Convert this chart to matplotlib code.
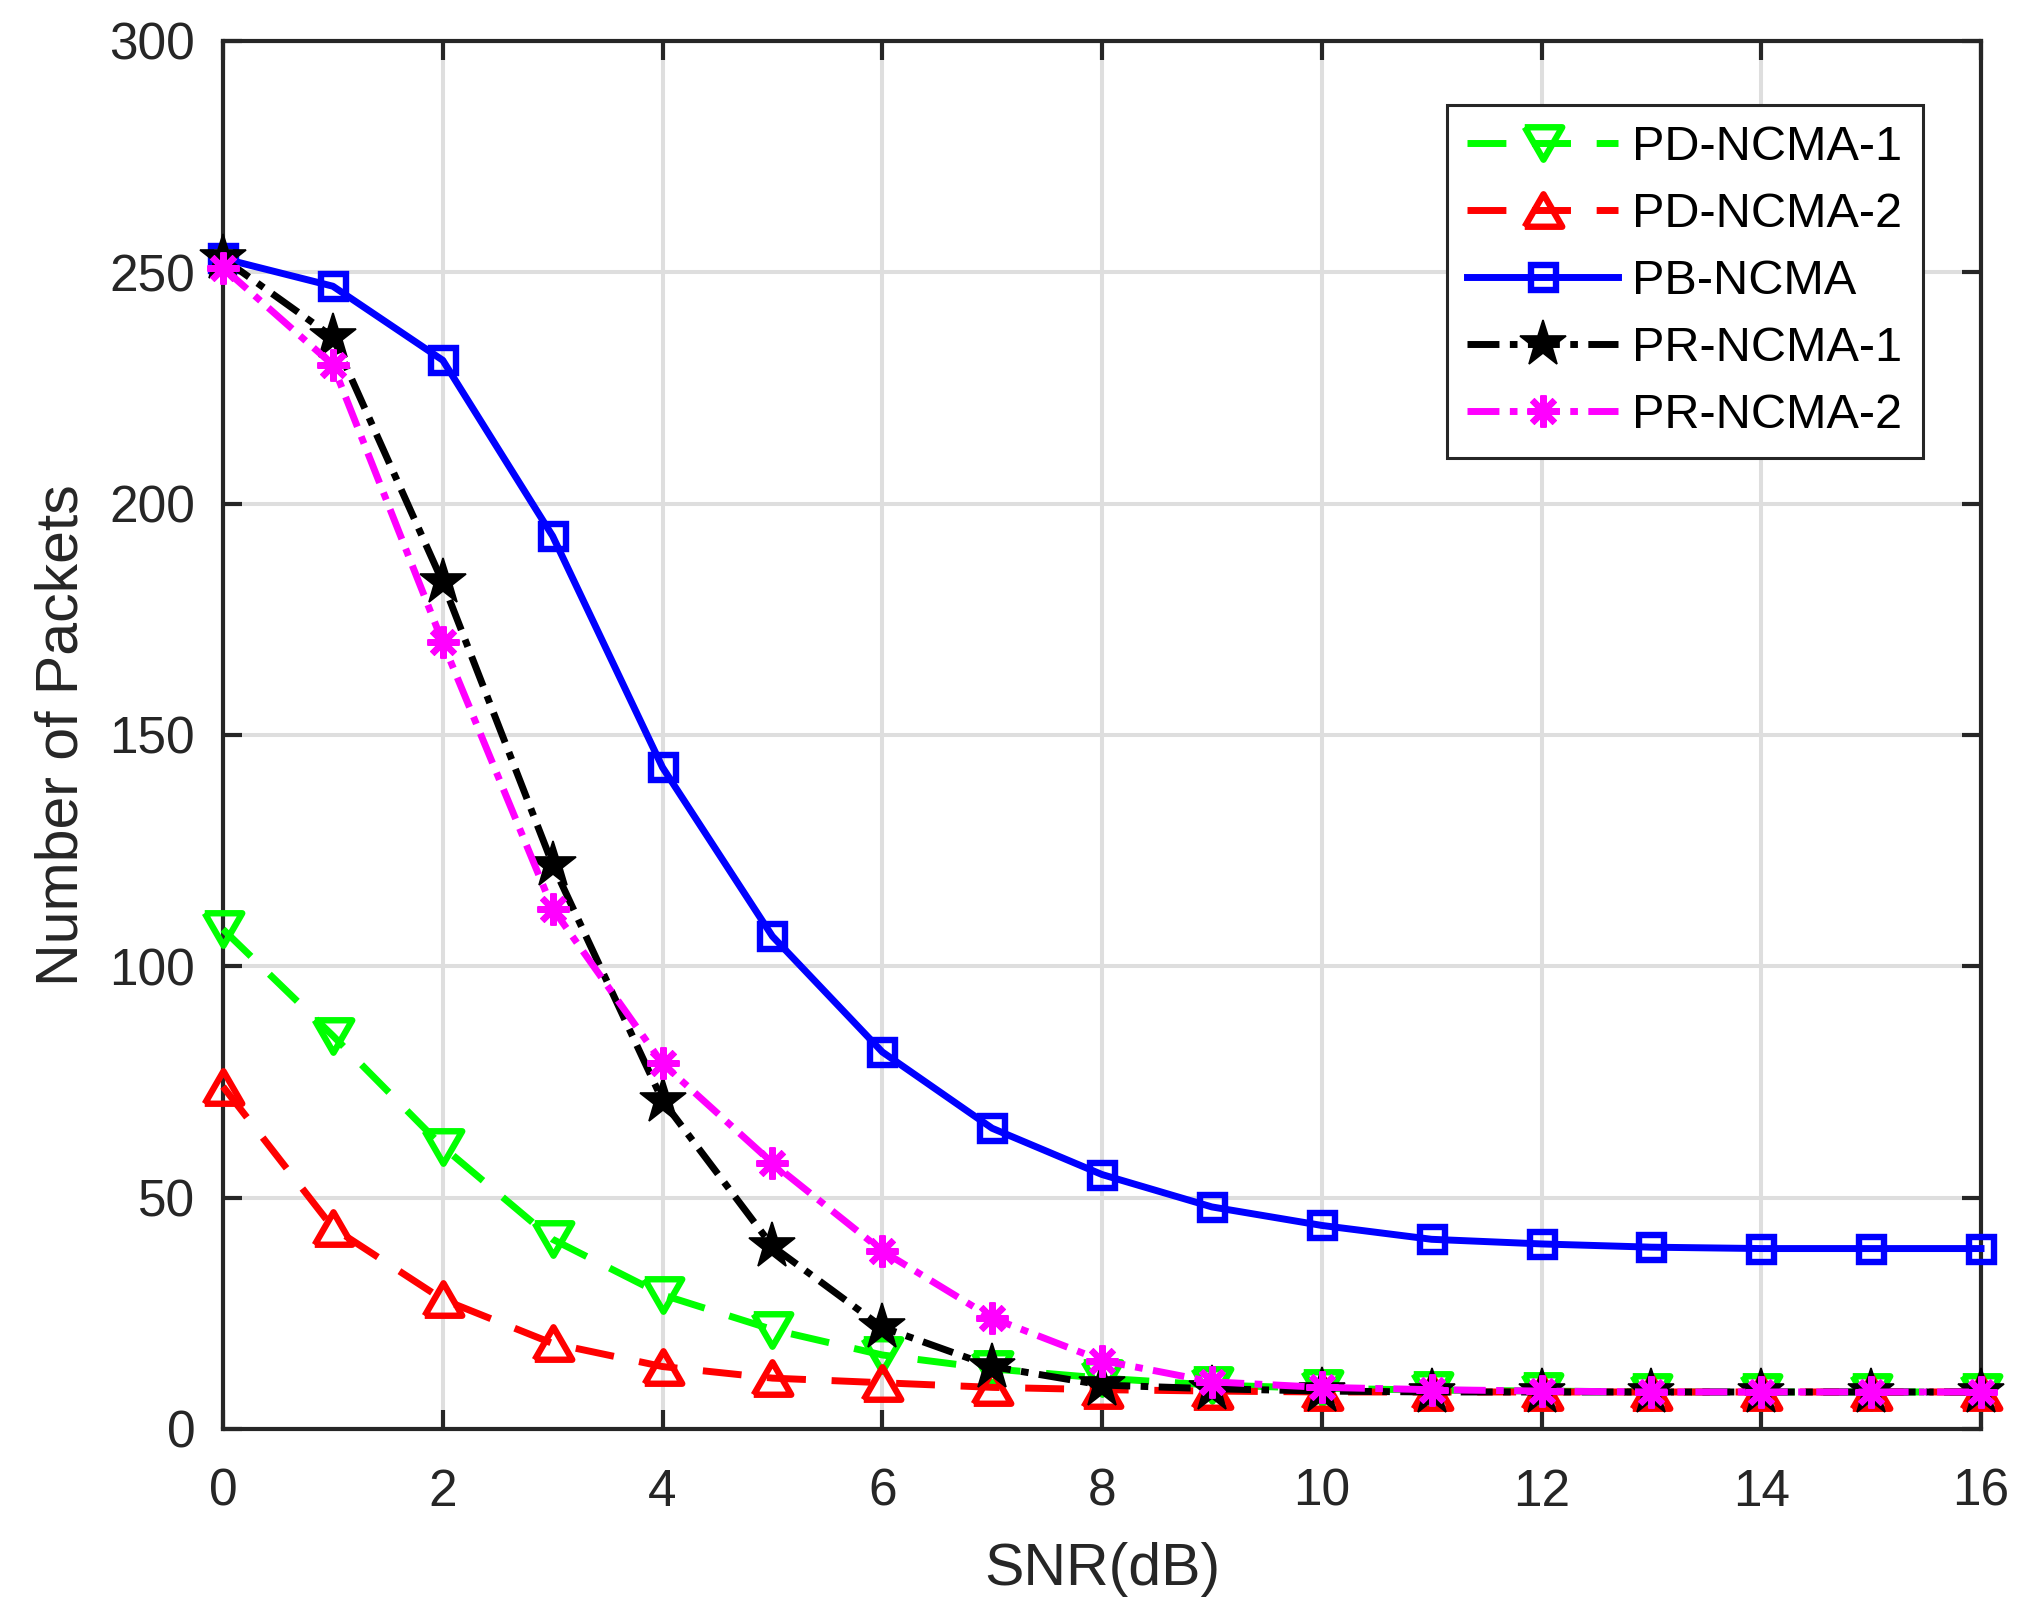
import matplotlib
matplotlib.use("Agg")
import matplotlib.pyplot as plt
import numpy as np

plt.rcParams['font.family'] = ['Liberation Sans', 'DejaVu Sans']

snr = list(range(17))
pd_ncma_1 = [108, 85, 61, 41, 29, 21.5, 16, 13, 11, 9.5, 8.8, 8.4, 8.2, 8, 8, 8, 8]
pd_ncma_2 = [74, 43.5, 28, 18.5, 13.5, 11, 10, 9, 8.5, 8.2, 8, 8, 8, 8, 8, 8, 8]
pb_ncma = [253, 247, 231, 193, 143, 106.5, 81.5, 65, 55, 48, 44, 41, 40, 39.3, 39, 39, 39]
pr_ncma_1 = [253, 236, 183, 122, 71, 39.5, 22, 13.5, 9.5, 8.7, 8.2, 8, 8, 8, 8, 8, 8]
pr_ncma_2 = [251, 230, 170, 112.5, 79, 57.5, 38.5, 24, 14.8, 10.2, 9, 8.5, 8.2, 8, 8, 8, 8]

xticks = [0, 2, 4, 6, 8, 10, 12, 14, 16]
yticks = [0, 50, 100, 150, 200, 250, 300]

DARK = '#262626'
LW = 5.0
MEW = 4.6

# MATLAB-like triangles (wider than tall)
tri_down = [(-1, 0.866), (1, 0.866), (0, -0.866), (-1, 0.866)]
tri_up = [(-1, -0.866), (1, -0.866), (0, 0.866), (-1, -0.866)]

fig = plt.figure(figsize=(20.3, 16.18), dpi=100)
ax = fig.add_axes([223 / 2030, 1 - 1429 / 1618, (1981 - 223) / 2030, (1429 - 41) / 1618])

common = dict(lw=LW, clip_on=False, zorder=3)
ax.plot(snr, pd_ncma_1, color=(0, 1, 0), dashes=(5.6, 3.7), marker=tri_down,
        ms=27, mfc='none', mew=MEW, label='PD-NCMA-1', **common)
ax.plot(snr, pd_ncma_2, color=(1, 0, 0), dashes=(5.6, 3.7), marker=tri_up,
        ms=27, mfc='none', mew=MEW, label='PD-NCMA-2', **common)
ax.plot(snr, pb_ncma, color=(0, 0, 1), ls='-', marker='s',
        ms=18, mfc='none', mew=MEW, label='PB-NCMA', **common)
ax.plot(snr, pr_ncma_1, color='black', dashes=(4.6, 1.5, 1.1, 1.5), marker='*',
        ms=35, mfc='black', mew=1.2, label='PR-NCMA-1', **common)
ax.plot(snr, pr_ncma_2, color=(1, 0, 1), dashes=(4.6, 1.5, 1.1, 1.5), marker=(8, 2, 0),
        ms=23, mew=MEW, label='PR-NCMA-2', **common)

ax.set_xlim(0, 16)
ax.set_ylim(0, 300)
ax.set_xticks(xticks)
ax.set_yticks(yticks)
ax.grid(True, color='#dedede', lw=2.9)
ax.set_axisbelow(True)

for s in ax.spines.values():
    s.set_color(DARK)
    s.set_linewidth(3.0)
ax.tick_params(direction='in', top=True, right=True, length=13.7, width=3.0,
               color=DARK, labelcolor=DARK, labelsize=37)
ax.tick_params(axis='x', pad=28)
ax.tick_params(axis='y', pad=20)

ax.set_xlabel('SNR(dB)', fontsize=42.5, color=DARK, labelpad=18)
ax.set_ylabel('Number of Packets', fontsize=42.5, color=DARK, labelpad=14)

leg = ax.legend(loc='upper right', bbox_to_anchor=(1923 / 2030, 1 - 105 / 1618),
                bbox_transform=fig.transFigure, borderaxespad=0, fontsize=35,
                handlelength=3.1, handletextpad=0.3, borderpad=0.42,
                labelspacing=0.45, fancybox=False, framealpha=1, numpoints=1)
leg.get_frame().set_edgecolor(DARK)
leg.get_frame().set_linewidth(2.2)
for t in leg.get_texts():
    t.set_color('black')

fig.savefig('out.png', dpi=100)
